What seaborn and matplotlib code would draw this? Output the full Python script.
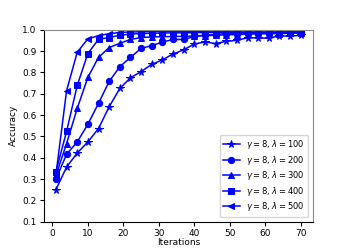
import seaborn as sns
import matplotlib.pyplot as plt
import pandas as pd

iterations = list(range(1, 71, 3))

acc_100 = [0.25, 0.356, 0.422, 0.474, 0.537, 0.639, 0.725, 0.775, 0.804, 0.838, 0.859, 0.887,
           0.906, 0.934, 0.943, 0.936, 0.946, 0.951, 0.963, 0.962, 0.961, 0.972, 0.970, 0.975]
acc_200 = [0.30, 0.416, 0.474, 0.557, 0.655, 0.758, 0.827, 0.871, 0.913, 0.926, 0.943, 0.955,
           0.955, 0.969, 0.976, 0.978, 0.983, 0.983, 0.984, 0.985, 0.986, 0.987, 0.988, 0.989]
acc_300 = [0.317, 0.466, 0.631, 0.777, 0.871, 0.917, 0.937, 0.955, 0.964, 0.967, 0.968, 0.969,
           0.970, 0.971, 0.973, 0.975, 0.977, 0.978, 0.980, 0.981, 0.982, 0.983, 0.984, 0.985]
acc_400 = [0.335, 0.523, 0.739, 0.889, 0.956, 0.964, 0.975, 0.980, 0.983, 0.984, 0.985, 0.986,
           0.986, 0.987, 0.987, 0.988, 0.988, 0.988, 0.989, 0.989, 0.989, 0.990, 0.990, 0.990]
acc_500 = [0.32, 0.714, 0.895, 0.958, 0.973, 0.982, 0.988, 0.990, 0.991, 0.992, 0.992, 0.993,
           0.993, 0.993, 0.994, 0.994, 0.994, 0.994, 0.995, 0.995, 0.995, 0.995, 0.995, 0.995]

lambdas = [100, 200, 300, 400, 500]
series = [acc_100, acc_200, acc_300, acc_400, acc_500]
markers = ['*', 'o', '^', 's', '<']

plt.rcParams['figure.dpi'] = 100
plt.rcParams['font.size'] = 6.5
fig, ax = plt.subplots(figsize=(3.48, 2.49))

for lam, acc, m in zip(lambdas, series, markers):
    df = pd.DataFrame({'Iterations': iterations, 'Accuracy': acc})
    ms = 5.5 if m == '*' else 4.5
    sns.lineplot(data=df, x='Iterations', y='Accuracy', ax=ax, color='blue', marker=m,
                 markersize=ms, markeredgecolor='blue', linewidth=1.1,
                 label=r'$\gamma=8$, $\lambda=%d$' % lam)

ax.set_ylim(0.1, 1.0)
ax.set_xlim(-2.5, 73.5)
ax.set_xticks(range(0, 71, 10))
ax.set_yticks([0.1 * i for i in range(1, 11)])
ax.tick_params(labelsize=6.5, length=3, pad=2)
ax.set_xlabel('Iterations', fontsize=6.5, labelpad=0)
ax.set_ylabel('Accuracy', fontsize=6.5, labelpad=3)
for s in ['top', 'right']:
    ax.spines[s].set_color('#888888')
ax.legend(loc='lower right', fontsize=6, handlelength=2, labelspacing=0.3,
          borderaxespad=0.6)

fig.savefig('out.png', dpi=100)
